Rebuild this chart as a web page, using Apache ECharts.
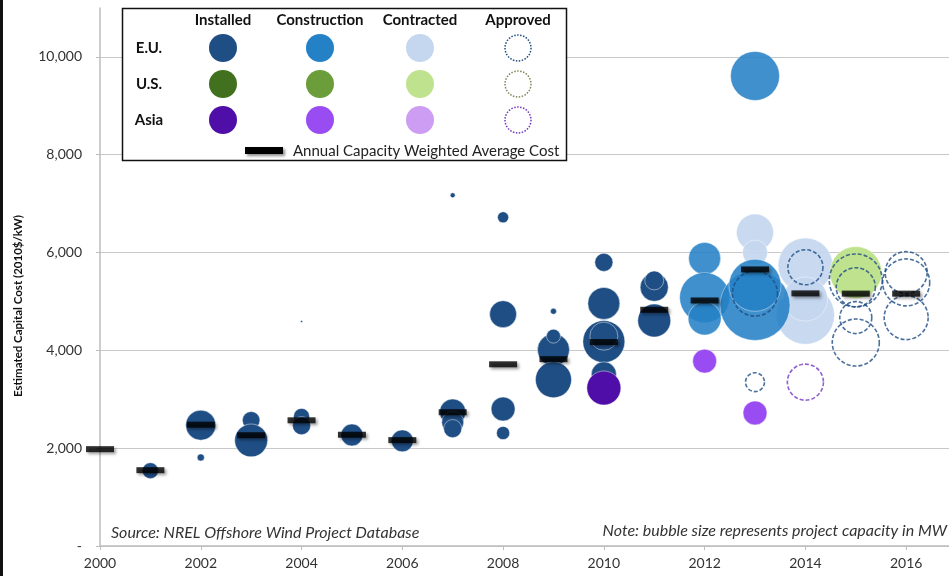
<!DOCTYPE html>
<html>
<head>
<meta charset="utf-8">
<script src="https://cdn.jsdelivr.net/npm/echarts@6/dist/echarts.min.js"></script>
<style>
  html, body { margin: 0; padding: 0; background: #fff; }
  #chart { width: 949px; height: 576px; }
</style>
</head>
<body>
<div id="chart"></div>
<script>
// [year, cost in 2010$/kW, capacity in MW]
const euInstalled = [
  [2001, 1540, 25],
  [2002, 2470, 88], [2002, 1810, 5],
  [2003, 2570, 30], [2003, 2160, 106],
  [2004, 2650, 25], [2004, 2460, 32], [2004, 4590, 0.4],
  [2005, 2270, 47],
  [2006, 2150, 47],
  [2007, 2740, 66], [2007, 2530, 47], [2007, 2400, 32], [2007, 7170, 2.4],
  [2008, 6720, 12], [2008, 4740, 71], [2008, 2800, 56], [2008, 2310, 17],
  [2009, 4800, 3.5], [2009, 4010, 100], [2009, 4290, 19], [2009, 3400, 127],
  [2010, 5800, 32], [2010, 4960, 100], [2010, 4180, 172], [2010, 4290, 77], [2010, 3510, 61],
  [2011, 5290, 77], [2011, 5430, 35], [2011, 4610, 106]
]
const euConstruction = [
  [2012, 5880, 100], [2012, 5080, 244], [2012, 4650, 106],
  [2013, 4920, 479], [2013, 5330, 264], [2013, 9610, 234]
]
const euContracted = [
  [2013, 6410, 134], [2013, 6000, 61],
  [2014, 5740, 290], [2014, 4720, 330], [2014, 5050, 190]
]
const euApproved = [
  [2013, 5160, 198], [2013, 3350, 35],
  [2014, 5700, 120],
  [2015, 5430, 274], [2015, 5290, 149], [2015, 4670, 100], [2015, 4160, 216],
  [2016, 5590, 172], [2016, 5390, 216], [2016, 4670, 189]
]
const usContracted = [[2015, 5590, 264]]
const asiaInstalled = [[2010, 3230, 113]]
const asiaConstruction = [[2012, 3780, 56], [2013, 2720, 56]]
const asiaApproved = [[2014, 3350, 127]]

const avgYears = [2000, 2001, 2002, 2003, 2004, 2005, 2006, 2007, 2008, 2009, 2010, 2011, 2012, 2013, 2014, 2015, 2016]
const avgCost = [1980, 1550, 2480, 2265, 2570, 2275, 2165, 2735, 3715, 3820, 4170, 4830, 5020, 5655, 5165, 5160, 5160]

const FONT = 'Lato, "Liberation Sans", sans-serif'
const C = {
  euInst: '#1f4e85', euCons: '#2481c6', euCont: '#c5d7ef', euAppr: '#1f4e85',
  usInst: '#41711f', usCons: '#6b9e3a', usCont: '#bfe28f', usAppr: '#7d8a58',
  asInst: '#4f0ea8', asCons: '#9a4cf3', asCont: '#cc9df3', asAppr: '#7438c6'
}

const bubbleSize = (d) => 3.2 * Math.sqrt(d[2])

const filled = (name, data, color, opacity) => ({
  name, type: 'scatter', data,
  symbolSize: bubbleSize,
  itemStyle: { color, opacity: opacity || 1, borderColor: 'rgba(255,255,255,0.45)', borderWidth: 1 },
  z: 2
})
const ring = (name, data, color) => ({
  name, type: 'scatter', data,
  symbolSize: bubbleSize,
  itemStyle: { color: 'rgba(0,0,0,0)', borderColor: color, borderWidth: 1.6, borderType: [4, 2] },
  z: 4
})

const chart = echarts.init(document.getElementById('chart'))

// legend box drawn by hand
const legCols = [223, 320, 420, 518]
const legRows = [48, 84, 120]
const legHead = ['Installed', 'Construction', 'Contracted', 'Approved']
const legRowNames = ['E.U.', 'U.S.', 'Asia']
const legColors = [
  [C.euInst, C.euCons, C.euCont, C.euAppr],
  [C.usInst, C.usCons, C.usCont, C.usAppr],
  [C.asInst, C.asCons, C.asCont, C.asAppr]
]
const legend = [
  { type: 'rect', shape: { x: 122.5, y: 8.5, width: 444, height: 152 },
    style: { fill: '#fff', stroke: '#111', lineWidth: 1.5 }, z: 100 }
]
legHead.forEach((t, i) => legend.push({
  type: 'text', x: legCols[i], y: 20, z: 101,
  style: { text: t, font: 'bold 15px ' + FONT, fill: '#111', align: 'center', verticalAlign: 'middle' }
}))
legRowNames.forEach((t, r) => {
  legend.push({
    type: 'text', x: 149, y: legRows[r], z: 101,
    style: { text: t, font: 'bold 15px ' + FONT, fill: '#111', align: 'center', verticalAlign: 'middle' }
  })
  legColors[r].forEach((col, c) => {
    legend.push(c < 3
      ? { type: 'circle', shape: { cx: legCols[c], cy: legRows[r], r: 14 }, style: { fill: col }, z: 101 }
      : { type: 'circle', shape: { cx: legCols[c], cy: legRows[r], r: 13 },
          style: { fill: 'none', stroke: col, lineWidth: 1.5, lineDash: [1.5, 1.5] }, z: 101 })
  })
})
legend.push({
  type: 'rect', shape: { x: 245, y: 147, width: 38, height: 7 },
  style: { fill: '#000', shadowBlur: 3, shadowColor: 'rgba(0,0,0,0.45)', shadowOffsetX: 2, shadowOffsetY: 2 }, z: 101
})
legend.push({
  type: 'text', x: 293, y: 151, z: 101,
  style: { text: 'Annual Capacity Weighted Average Cost', font: '15px ' + FONT, fill: '#222', verticalAlign: 'middle' }
})

const option = {
  animation: false,
  textStyle: { fontFamily: FONT },
  grid: { left: 100, right: 0, top: 8, bottom: 30 },
  xAxis: {
    type: 'value', min: 2000, max: 2016.85, interval: 2,
    axisLine: { lineStyle: { color: '#bdbdbd', width: 1.5 } },
    axisTick: { show: true, length: 4, lineStyle: { color: '#bdbdbd' } },
    axisLabel: { color: '#333', fontSize: 14, margin: 10, showMaxLabel: false, formatter: (v) => String(v) },
    splitLine: { show: false }
  },
  yAxis: {
    type: 'value', min: 0, max: 11000, interval: 2000,
    axisLine: { show: true, lineStyle: { color: '#bdbdbd', width: 1.5 } },
    axisTick: { show: true, length: 4, lineStyle: { color: '#bdbdbd' } },
    axisLabel: {
      color: '#333', fontSize: 14, margin: 18, showMaxLabel: false,
      formatter: (v) => v === 0 ? '-' : v.toLocaleString('en-US')
    },
    splitLine: { show: true, showMaxLine: false, lineStyle: { color: '#c8c8c8', width: 1.2 } }
  },
  graphic: [
    { type: 'rect', shape: { x: 0, y: 0, width: 3, height: 576 }, style: { fill: '#111' } },
    { type: 'text', x: 18, y: 306, rotation: Math.PI / 2, style: {
      text: 'Estimated Capital Cost (2010$/kW)', font: 'bold 11.5px ' + FONT, fill: '#111',
      align: 'center', verticalAlign: 'middle' } },
    { type: 'text', x: 111, y: 533, style: {
      text: 'Source: NREL Offshore Wind Project Database', font: 'italic 16px ' + FONT, fill: '#333', verticalAlign: 'middle' } },
    { type: 'text', x: 947, y: 531, style: {
      text: 'Note: bubble size represents project capacity in MW', font: 'italic 16px ' + FONT, fill: '#333',
      align: 'right', verticalAlign: 'middle' } },
    { type: 'group', children: legend }
  ],
  series: [
    filled('E.U. Contracted', euContracted, C.euCont, 0.95),
    filled('U.S. Contracted', usContracted, C.usCont),
    filled('E.U. Installed', euInstalled, C.euInst),
    filled('Asia Installed', asiaInstalled, C.asInst),
    filled('E.U. Construction', euConstruction, C.euCons, 0.88),
    filled('Asia Construction', asiaConstruction, C.asCons),
    ring('E.U. Approved', euApproved, C.euAppr),
    ring('Asia Approved', asiaApproved, C.asAppr),
    {
      name: 'Annual Capacity Weighted Average Cost',
      type: 'scatter',
      data: avgYears.map((y, i) => [y, avgCost[i]]),
      symbol: 'rect', symbolSize: [28, 6],
      itemStyle: { color: '#000', shadowBlur: 3, shadowColor: 'rgba(0,0,0,0.45)', shadowOffsetX: 2, shadowOffsetY: 2 },
      z: 6
    }
  ]
}

chart.setOption(option)
</script>
</body>
</html>
